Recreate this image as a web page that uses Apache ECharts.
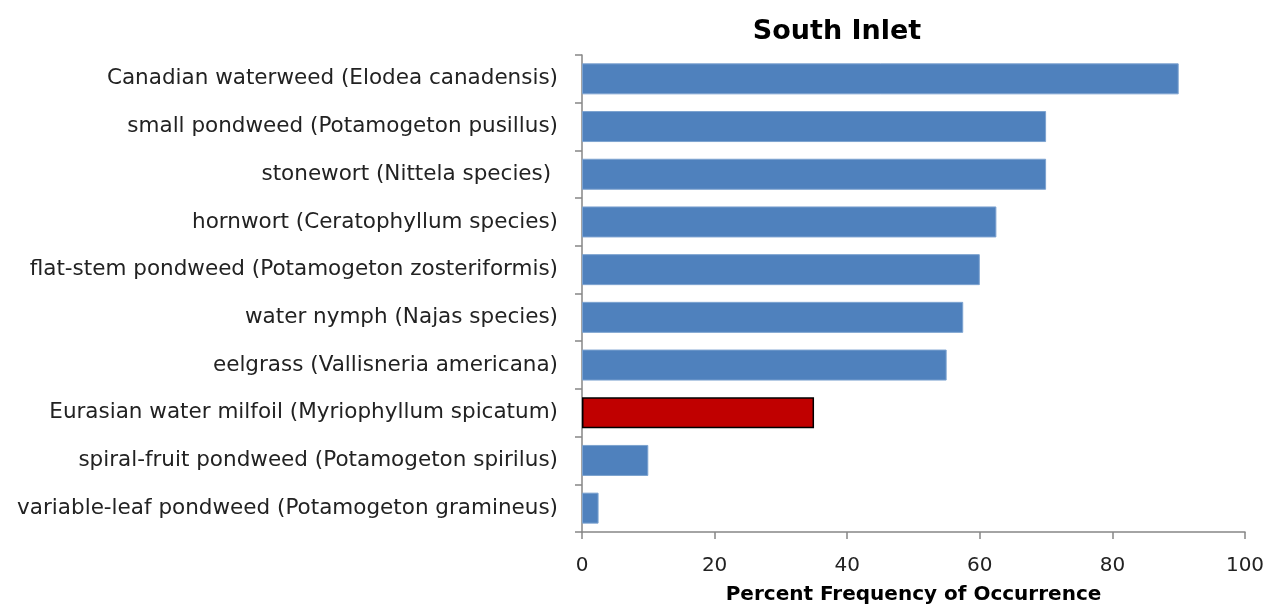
<!DOCTYPE html>
<html>
<head>
<meta charset="utf-8">
<script src="https://cdn.jsdelivr.net/npm/echarts@6/dist/echarts.min.js"></script>
<style>
  html, body { margin: 0; padding: 0; background: #fff; }
  #chart { width: 1270px; height: 609px; }
</style>
</head>
<body>
<div id="chart"></div>
<script>
  // species, top to bottom
  var species = [
    'Canadian waterweed (Elodea canadensis)',
    'small pondweed (Potamogeton pusillus)',
    'stonewort (Nittela species) ',
    'hornwort (Ceratophyllum species)',
    'flat-stem pondweed (Potamogeton zosteriformis)',
    'water nymph (Najas species)',
    'eelgrass (Vallisneria americana)',
    'Eurasian water milfoil (Myriophyllum spicatum)',
    'spiral-fruit pondweed (Potamogeton spirilus)',
    'variable-leaf pondweed (Potamogeton gramineus)'
  ];
  var frequency = [90, 70, 70, 62.5, 60, 57.5, 55, 35, 10, 2.5];
  var invasive = 'Eurasian water milfoil (Myriophyllum spicatum)';

  var chart = echarts.init(document.getElementById('chart'));
  var font = '"DejaVu Sans", sans-serif';

  var option = {
    animation: false,
    title: {
      text: 'South Inlet',
      left: 832,
      top: 13,
      textAlign: 'center',
      textStyle: { fontFamily: font, fontSize: 27, fontWeight: 'bold', color: '#000' }
    },
    grid: { left: 582, right: 25, top: 55, bottom: 77, containLabel: false, outerBoundsMode: 'none' },
    xAxis: {
      type: 'value',
      min: 0,
      max: 100,
      interval: 20,
      name: 'Percent Frequency of Occurrence',
      nameLocation: 'middle',
      nameGap: 53,
      nameTextStyle: { fontFamily: font, fontSize: 20, fontWeight: 'bold', color: '#000' },
      axisLine: { show: true, lineStyle: { color: '#868686', width: 1.5 } },
      axisTick: { show: true, length: 7, lineStyle: { color: '#868686', width: 1.5 } },
      axisLabel: { fontFamily: font, fontSize: 20, color: '#222', margin: 24 },
      splitLine: { show: false }
    },
    yAxis: {
      type: 'category',
      inverse: true,
      data: species,
      axisLine: { show: true, lineStyle: { color: '#868686', width: 1.5 } },
      axisTick: { show: true, length: 7, alignWithLabel: false, lineStyle: { color: '#868686', width: 1.5 } },
      axisLabel: { fontFamily: font, fontSize: 21.5, color: '#222', margin: 24 }
    },
    series: [{
      type: 'bar',
      barCategoryGap: '35%',
      data: frequency.map(function (v, i) {
        var red = species[i] === invasive;
        return {
          value: v,
          itemStyle: red
            ? { color: '#C00000', borderColor: '#000', borderWidth: 1.5 }
            : { color: '#4F81BD', borderColor: '#7DA3D0', borderWidth: 1 }
        };
      })
    }]
  };
  chart.setOption(option);
  window.addEventListener('resize', function () {
    chart.resize();
  });
</script>
</body>
</html>
